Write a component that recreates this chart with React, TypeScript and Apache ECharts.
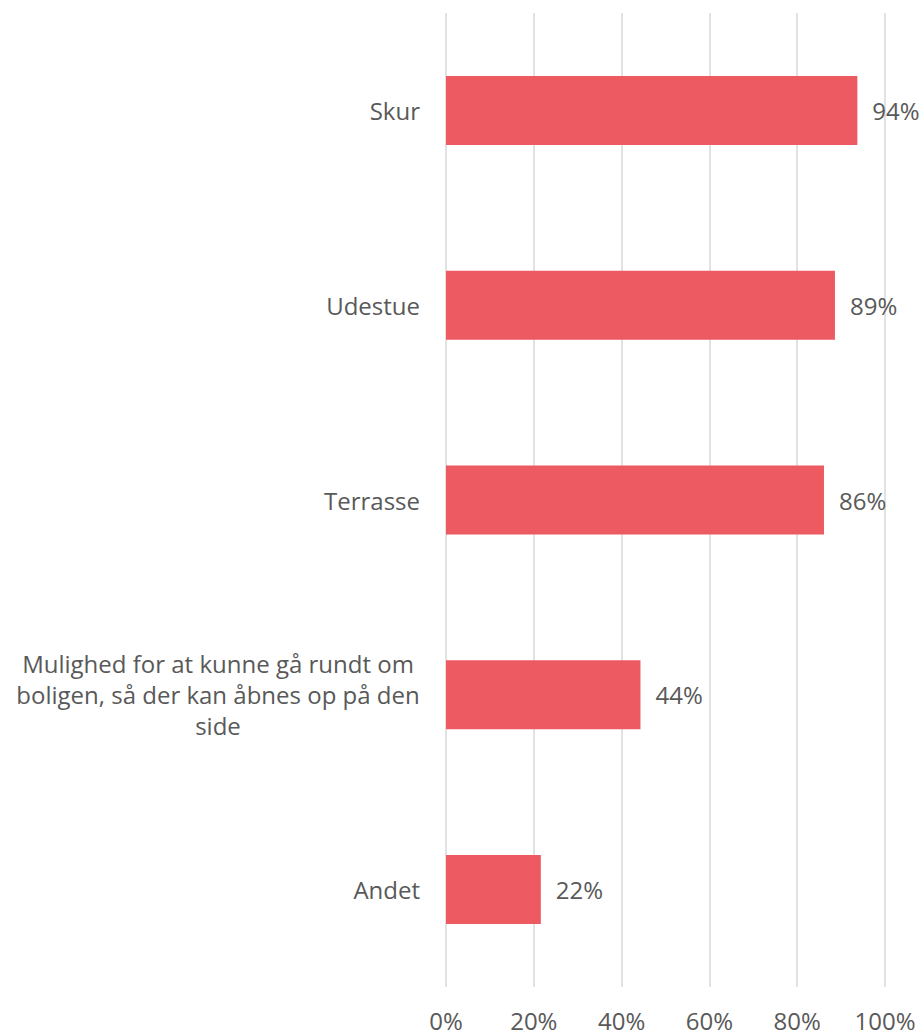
import React, { useEffect, useRef } from "react";
import * as echarts from "echarts";

const categories = [
  "Skur",
  "Udestue",
  "Terrasse",
  "Mulighed for at kunne gå rundt om boligen, så der kan åbnes op på den side",
  "Andet",
];
const values = [93.7, 88.6, 86.1, 44.3, 21.6];
const xTicks = { min: 0, max: 100, interval: 20 };

const FONT = '"Open Sans", "Noto Sans", sans-serif';
const FS = 24;
const TEXT = "#595959";
const WRAP = 412;

function wrapText(text: string): string[] {
  const c = document.createElement("canvas").getContext("2d")!;
  c.font = `${FS}px ${FONT}`;
  const words = text.split(" ");
  const lines: string[] = [];
  let cur = "";
  for (const w of words) {
    const t = cur ? cur + " " + w : w;
    if (c.measureText(t).width > WRAP && cur) {
      lines.push(cur);
      cur = w;
    } else cur = t;
  }
  if (cur) lines.push(cur);
  return lines;
}

export default function App() {
  const ref = useRef<HTMLDivElement>(null);
  useEffect(() => {
    document.body.style.margin = "0";
    const chart = echarts.init(ref.current!, null, { renderer: "svg" });
    chart.setOption({
      animation: false,
      grid: { left: 446, right: 37, top: 13, bottom: 48, containLabel: false },
      xAxis: {
        type: "value",
        min: xTicks.min,
        max: xTicks.max,
        interval: xTicks.interval,
        axisLine: { show: false },
        axisTick: { show: false },
        axisLabel: {
          formatter: "{value}%",
          color: TEXT,
          fontSize: FS,
          fontFamily: FONT,
          margin: 21,
        },
        splitLine: { show: true, lineStyle: { color: "#d9d9d9", width: 1.5 } },
      },
      yAxis: {
        type: "category",
        data: categories,
        inverse: true,
        axisLine: { show: false },
        axisTick: { show: false },
        axisLabel: {
          color: TEXT,
          fontSize: FS,
          fontFamily: FONT,
          margin: 26,
          lineHeight: 31,
          formatter: (v: string) => {
            const lines = wrapText(v);
            if (lines.length === 1) return v;
            return lines.map((l) => `{c|${l}}`).join("\n");
          },
          rich: {
            c: {
              width: 404,
              align: "center",
              color: TEXT,
              fontSize: FS,
              fontFamily: FONT,
              lineHeight: 31,
            },
          },
        },
      },
      series: [
        {
          type: "bar",
          data: values,
          barWidth: 69,
          itemStyle: { color: "#EE5A61" },
          label: {
            show: true,
            position: "right",
            distance: 15,
            color: TEXT,
            fontSize: FS,
            fontFamily: FONT,
            formatter: (p: any) => `${Math.round(p.value)}%`,
          },
        },
      ],
    });
    return () => chart.dispose();
  }, []);
  return <div ref={ref} style={{ width: 922, height: 1035 }} />;
}
